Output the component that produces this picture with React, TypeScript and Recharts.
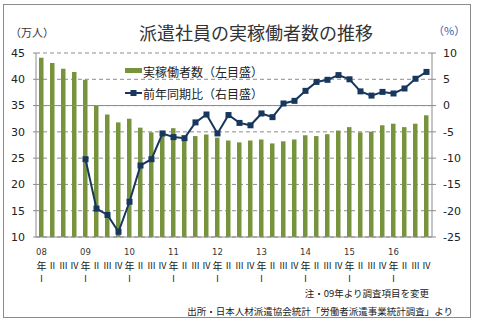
import React from 'react';
import { ComposedChart, Bar, Line, XAxis, YAxis, CartesianGrid, ReferenceLine } from 'recharts';

const years = ['08', '09', '10', '11', '12', '13', '14', '15', '16'];
const quarters = ['Ⅰ', 'Ⅱ', 'Ⅲ', 'Ⅳ'];

// 実稼働者数（万人）
const workers = [
  44.1, 43.1, 42.0, 41.4, 39.9, 34.9, 33.3, 31.8, 32.5, 30.8, 29.9, 30.1,
  30.7, 29.05, 29.2, 29.5, 28.9, 28.35, 28.0, 28.35, 28.55, 27.8, 28.2, 28.55,
  29.35, 29.2, 29.55, 30.25, 30.9, 29.9, 30.05, 31.25, 31.55, 30.9, 31.55, 33.15,
];

// 前年同期比（%）
const yoy: (number | null)[] = [
  null, null, null, null, -10.2, -19.6, -20.8, -24.0, -18.3, -11.4, -10.2, -5.3,
  -6.0, -6.2, -3.2, -1.7, -5.3, -1.8, -3.3, -3.75, -1.5, -2.2, 0.4, 0.9,
  2.8, 4.5, 4.9, 5.8, 5.0, 2.7, 1.9, 2.6, 2.3, 3.25, 5.1, 6.4,
];

const leftTicks = [10, 15, 20, 25, 30, 35, 40, 45];
const rightTicks = [-25, -20, -15, -10, -5, 0, 5, 10];

const data = workers.map((w, i) => ({
  key: `${years[Math.floor(i / 4)]}-${i % 4}`,
  workers: w,
  yoy: yoy[i],
}));

const GREEN = '#77933C';
const NAVY = '#17375E';
const GRID = '#8c8c8c';
const JP = '"Noto Sans CJK JP", sans-serif';

const QuarterTick = (props: any) => {
  const { x, y, payload } = props;
  const [yr, qs] = String(payload.value).split('-');
  const q = Number(qs);
  if (q === 0) {
    return (
      <g>
        <text x={x} y={y + 7} textAnchor="middle" dominantBaseline="central" fontSize={8.5} fontFamily="DejaVu Sans" fill="#333">{yr}</text>
        <text x={x} y={y + 20} textAnchor="middle" dominantBaseline="central" fontSize={10} fontFamily={JP} fill="#222">年</text>
        <text x={x} y={y + 33} textAnchor="middle" dominantBaseline="central" fontSize={9} fontFamily={JP} fill="#222">{quarters[0]}</text>
      </g>
    );
  }
  return (
    <text x={x} y={y + 20} textAnchor="middle" dominantBaseline="central" fontSize={9} fontFamily={JP} fill="#222">{quarters[q]}</text>
  );
};

const SquareDot = (props: any) => {
  const { cx, cy, index } = props;
  if (cx == null || cy == null || props.value == null) return <g key={`d-${index}`} />;
  return <rect key={`d-${index}`} x={cx - 3} y={cy - 3} width={6} height={6} fill={NAVY} />;
};

const LegendBox = () => (
  <svg width={140} height={40} style={{ overflow: 'visible', display: 'block' }}>
    <rect x={1} y={6} width={17} height={5} fill={GREEN} />
    <text x={19} y={9} dominantBaseline="central" fontSize={12} fontFamily={JP} fill="#222">実稼働者数（左目盛）</text>
    <line x1={1} y1={31} x2={18} y2={31} stroke={NAVY} strokeWidth={2} />
    <rect x={6.5} y={28} width={6} height={6} fill={NAVY} />
    <text x={19} y={31} dominantBaseline="central" fontSize={12} fontFamily={JP} fill="#222">前年同期比（右目盛）</text>
  </svg>
);

const App: React.FC = () => {
  return (
    <div style={{ position: 'absolute', left: 0, top: 0, width: 477, height: 323, background: '#fff' }}>
      <div style={{ position: 'absolute', left: 3, top: 4, width: 468, height: 314, border: '1px solid #8c8c8c', boxSizing: 'border-box' }} />
      <div style={{ position: 'absolute', left: 8, top: 20, width: 496, textAlign: 'center', fontFamily: JP, fontSize: 18, color: '#333', lineHeight: '24px' }}>
        派遣社員の実稼働者数の推移
      </div>
      <div style={{ position: 'absolute', left: 10, top: 25, fontFamily: JP, fontSize: 11, color: '#333', lineHeight: '14px' }}>（万人）</div>
      <div style={{ position: 'absolute', left: 433, top: 23, fontFamily: JP, fontSize: 11, color: '#2a62b0', lineHeight: '14px' }}>（%）</div>

      <div style={{ position: 'absolute', left: 0, top: 0 }}>
        <ComposedChart width={477} height={323} data={data} margin={{ top: 53, right: 5, bottom: 36, left: 0 }}>
          <CartesianGrid vertical={false} stroke={GRID} strokeDasharray="4 3" yAxisId="left" />
          <XAxis
            dataKey="key"
            interval={0}
            tickLine={false}
            axisLine={{ stroke: GRID }}
            height={50}
            tick={<QuarterTick />}
          />
          <YAxis
            yAxisId="left"
            domain={[10, 45]}
            ticks={leftTicks}
            width={36}
            tickSize={3}
            tickMargin={8}
            axisLine={{ stroke: GRID }}
            tickLine={{ stroke: GRID }}
            tick={{ fontSize: 11, fontFamily: 'DejaVu Sans', fill: '#222' }}
            allowDataOverflow
          />
          <YAxis
            yAxisId="right"
            orientation="right"
            domain={[-25, 10]}
            ticks={rightTicks}
            width={40}
            tickSize={4}
            tickMargin={7}
            axisLine={{ stroke: GRID }}
            tickLine={{ stroke: GRID }}
            tick={{ fontSize: 11, fontFamily: 'DejaVu Sans', fill: '#222', textAnchor: 'start' }}
          />
          <ReferenceLine yAxisId="right" y={0} stroke={GRID} strokeWidth={1} />
          <Bar yAxisId="left" dataKey="workers" fill={GREEN} barSize={4.5} isAnimationActive={false} />
          <Line
            yAxisId="right"
            dataKey="yoy"
            stroke={NAVY}
            strokeWidth={2}
            dot={<SquareDot />}
            activeDot={false}
            connectNulls={false}
            isAnimationActive={false}
          />
        </ComposedChart>
      </div>

      <div style={{ position: 'absolute', left: 124, top: 62 }}>
        <LegendBox />
      </div>

      <div style={{ position: 'absolute', right: 48, top: 287, fontFamily: JP, fontSize: 9.5, color: '#222', lineHeight: '13px', whiteSpace: 'nowrap' }}>
        注・09年より調査項目を変更
      </div>
      <div style={{ position: 'absolute', right: 24, top: 305, fontFamily: JP, fontSize: 9.5, color: '#222', lineHeight: '13px', whiteSpace: 'nowrap' }}>
        出所・日本人材派遣協会統計「労働者派遣事業統計調査」より
      </div>
    </div>
  );
};

export default App;
